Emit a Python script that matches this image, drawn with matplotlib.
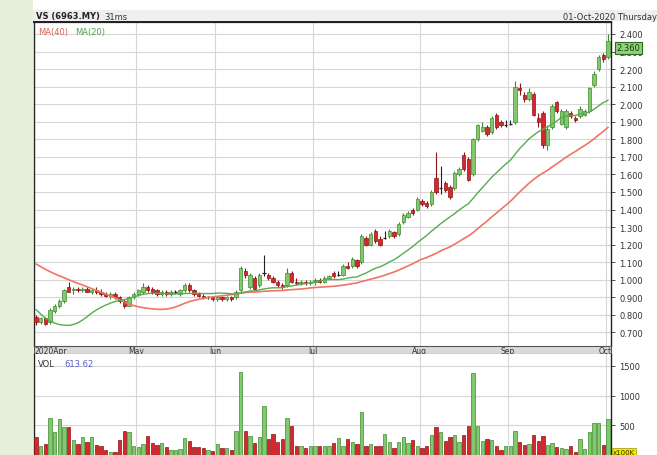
import matplotlib
matplotlib.use("Agg")
import matplotlib.pyplot as plt
import numpy as np
import pandas as pd
from matplotlib.patches import Rectangle

# ---------------- data ----------------
holidays = ['2020-05-01', '2020-05-07', '2020-05-25', '2020-05-26', '2020-06-08',
            '2020-08-20', '2020-08-31', '2020-09-16']
dates = pd.bdate_range('2020-04-01', '2020-10-01', freq='C', holidays=holidays)

# closes before April (only used to warm up the moving averages)
march_closes = [1.38, 1.36, 1.37, 1.35, 1.34, 1.36, 1.38, 1.37, 1.35, 1.33,
                1.34, 1.36, 1.35, 1.33, 1.32, 1.34, 1.36, 1.35, 1.33, 1.33,
                1.28, 1.22, 1.15, 1.10, 1.05, 1.00, 0.97,
                0.85, 0.75, 0.62, 0.55, 0.52, 0.58, 0.62, 0.66, 0.70, 0.72, 0.74, 0.77]

opens = [0.79, 0.76, 0.78, 0.76, 0.82, 0.85, 0.88, 0.96, 0.94, 0.95,
         0.94, 0.95, 0.93, 0.94, 0.93, 0.92, 0.91, 0.92, 0.90, 0.88,
         0.85, 0.90, 0.92, 0.93, 0.96, 0.95, 0.94, 0.92, 0.93, 0.92,
         0.93, 0.92, 0.94, 0.97, 0.94, 0.92, 0.91, 0.90, 0.90, 0.89,
         0.90, 0.89, 0.90, 0.90, 0.94, 1.05, 0.96, 1.01, 0.97, 1.04,
         1.03, 1.01, 0.99, 0.97, 0.97, 1.04, 0.99, 0.98, 0.99, 0.98,
         0.99, 1.00, 0.99, 1.01, 1.04, 1.03, 1.03, 1.08, 1.08, 1.11,
         1.10, 1.24, 1.20, 1.28, 1.23, 1.24, 1.25, 1.27, 1.26, 1.33,
         1.36, 1.40, 1.40, 1.45, 1.44, 1.43, 1.58, 1.52, 1.55, 1.53,
         1.52, 1.60, 1.71, 1.69, 1.60, 1.80, 1.85, 1.87, 1.84, 1.94,
         1.90, 1.88, 1.89, 1.90, 2.09, 2.05, 2.03, 2.06, 1.92, 1.95,
         1.77, 1.87, 2.01, 1.89, 1.87, 1.95, 1.92, 1.93, 1.94, 1.96,
         2.11, 2.20, 2.28, 2.27]
highs = [0.80, 0.79, 0.79, 0.84, 0.86, 0.89, 0.95, 0.99, 0.96, 0.96,
         0.96, 0.96, 0.95, 0.96, 0.95, 0.93, 0.93, 0.93, 0.91, 0.89,
         0.91, 0.93, 0.95, 0.98, 0.97, 0.96, 0.95, 0.94, 0.94, 0.94,
         0.94, 0.95, 0.98, 0.98, 0.95, 0.93, 0.92, 0.91, 0.91, 0.90,
         0.91, 0.91, 0.91, 0.94, 1.08, 1.07, 1.04, 1.02, 1.04, 1.14,
         1.04, 1.02, 1.00, 0.98, 1.07, 1.05, 1.01, 1.00, 1.00, 1.00,
         1.01, 1.01, 1.02, 1.03, 1.05, 1.05, 1.09, 1.10, 1.13, 1.12,
         1.26, 1.25, 1.27, 1.29, 1.25, 1.28, 1.29, 1.28, 1.33, 1.38,
         1.39, 1.41, 1.47, 1.46, 1.45, 1.51, 1.73, 1.65, 1.56, 1.54,
         1.62, 1.64, 1.73, 1.70, 1.81, 1.89, 1.90, 1.88, 1.93, 1.95,
         1.91, 1.91, 1.91, 2.13, 2.12, 2.07, 2.09, 2.07, 1.95, 1.96,
         1.88, 2.00, 2.02, 1.97, 1.97, 1.96, 1.93, 1.99, 1.97, 2.10,
         2.19, 2.28, 2.29, 2.40]
lows = [0.74, 0.75, 0.74, 0.75, 0.81, 0.84, 0.87, 0.93, 0.92, 0.93,
        0.93, 0.93, 0.92, 0.92, 0.91, 0.90, 0.89, 0.89, 0.87, 0.84,
        0.85, 0.89, 0.91, 0.92, 0.93, 0.92, 0.91, 0.91, 0.91, 0.91,
        0.92, 0.91, 0.93, 0.93, 0.91, 0.90, 0.89, 0.89, 0.88, 0.88,
        0.88, 0.88, 0.88, 0.89, 0.93, 1.01, 0.95, 0.94, 0.96, 1.02,
        1.00, 0.98, 0.96, 0.95, 0.96, 0.98, 0.97, 0.97, 0.97, 0.97,
        0.97, 0.98, 0.98, 1.00, 1.01, 1.02, 1.02, 1.06, 1.07, 1.07,
        1.09, 1.19, 1.19, 1.21, 1.19, 1.23, 1.24, 1.24, 1.25, 1.32,
        1.35, 1.37, 1.39, 1.42, 1.41, 1.42, 1.49, 1.49, 1.50, 1.46,
        1.51, 1.59, 1.62, 1.56, 1.59, 1.79, 1.84, 1.82, 1.83, 1.86,
        1.87, 1.87, 1.88, 1.89, 2.05, 2.01, 2.02, 1.93, 1.87, 1.75,
        1.74, 1.86, 1.95, 1.88, 1.86, 1.92, 1.90, 1.92, 1.93, 1.95,
        2.10, 2.19, 2.24, 2.26]
closes = [0.76, 0.78, 0.75, 0.83, 0.85, 0.88, 0.94, 0.93, 0.95, 0.94,
          0.95, 0.93, 0.94, 0.93, 0.92, 0.91, 0.92, 0.90, 0.88, 0.85,
          0.90, 0.92, 0.94, 0.96, 0.94, 0.93, 0.92, 0.93, 0.92, 0.93,
          0.93, 0.94, 0.97, 0.94, 0.92, 0.91, 0.90, 0.90, 0.89, 0.90,
          0.89, 0.90, 0.89, 0.93, 1.07, 1.03, 1.03, 0.95, 1.03, 1.04,
          1.01, 0.99, 0.97, 0.96, 1.04, 0.99, 0.98, 0.99, 0.98, 0.99,
          1.00, 0.99, 1.01, 1.02, 1.02, 1.03, 1.08, 1.07, 1.12, 1.08,
          1.25, 1.20, 1.26, 1.22, 1.20, 1.24, 1.28, 1.25, 1.32, 1.37,
          1.38, 1.38, 1.46, 1.43, 1.42, 1.50, 1.50, 1.52, 1.51, 1.47,
          1.61, 1.63, 1.63, 1.57, 1.80, 1.88, 1.87, 1.83, 1.92, 1.87,
          1.88, 1.88, 1.89, 2.10, 2.08, 2.03, 2.07, 1.94, 1.90, 1.77,
          1.86, 1.99, 1.96, 1.96, 1.96, 1.93, 1.91, 1.97, 1.96, 2.09,
          2.17, 2.27, 2.26, 2.36]
volumes = [297, 157, 185, 617, 381, 606, 466, 466, 252, 185,
           297, 213, 309, 168, 157, 90, 56, 56, 252, 404,
           393, 150, 129, 185, 325, 196, 168, 196, 129, 90,
           90, 101, 280, 241, 140, 129, 118, 90, 73, 185,
           112, 112, 90, 410, 1400, 398, 314, 202, 297, 830,
           269, 353, 224, 269, 617, 494, 157, 146, 112, 146,
           146, 146, 146, 157, 196, 280, 157, 269, 213, 180,
           718, 157, 185, 146, 146, 353, 213, 112, 213, 297,
           196, 252, 146, 112, 146, 337, 477, 381, 241, 309,
           337, 213, 337, 494, 1374, 494, 241, 269, 252, 157,
           90, 157, 150, 410, 213, 168, 185, 337, 241, 314,
           168, 196, 129, 112, 101, 146, 56, 269, 101, 393,
           539, 539, 168, 613.62]

price_ticks = [0.7, 0.8, 0.9, 1.0, 1.1, 1.2, 1.3, 1.4, 1.5, 1.6, 1.7, 1.8,
               1.9, 2.0, 2.1, 2.2, 2.3, 2.4]
vol_ticks = [500, 1000, 1500]
ma_periods = [40, 20]

# ---------------- derived ----------------
n = len(dates)
idx = np.arange(n)
o = np.array(opens); h = np.array(highs); l = np.array(lows); c = np.array(closes)
allc = pd.Series(march_closes + closes)
ma = {p: allc.rolling(p).mean().to_numpy()[-n:] for p in ma_periods}
month_starts = [i for i in range(n) if i == 0 or dates[i].month != dates[i - 1].month]
month_labels = ['2020Apr' if i == 0 else dates[i].strftime('%b') for i in month_starts]

# ---------------- figure ----------------
W, H = 657, 456
fig = plt.figure(figsize=(W / 100, H / 100), dpi=100)
fig.patch.set_facecolor('white')

def fax(x0, y0, x1, y1):
    return [x0 / W, 1 - y1 / H, (x1 - x0) / W, (y1 - y0) / H]

# left light-green strip and title band
fig.patches.append(Rectangle((0, 0), 33 / W, 1, transform=fig.transFigure,
                             facecolor='#e4efdc', edgecolor='none', zorder=0))
fig.patches.append(Rectangle((33 / W, 1 - 22 / H), 1, 11 / H, transform=fig.transFigure,
                             facecolor='#efefef', edgecolor='none', zorder=0))

fs = 6
GRID = '#d6d6d6'
G_FACE, G_EDGE = '#82c96d', '#3f8a30'
R_FACE, R_EDGE = '#d8262e', '#8a1616'
XL = (-0.43, 123.66)

ax = fig.add_axes(fax(34, 23, 611, 347))
axd = fig.add_axes(fax(34, 347, 611, 355))
axv = fig.add_axes(fax(34, 355, 611, 456))

# ---- price panel ----
ax.set_xlim(*XL)
ax.set_ylim(0.623, 2.468)
for p in price_ticks:
    ax.axhline(p, color=GRID, lw=0.8, zorder=0)
for i in month_starts[1:]:
    ax.axvline(i - 0.5, color=GRID, lw=0.8, zorder=0)

up = c > o
dn = c < o
doji = ~(up | dn)
wick_col = np.where(up, G_EDGE, np.where(dn, R_EDGE, '#222222'))
ax.vlines(idx, l, h, colors=wick_col, lw=0.8, zorder=2)
ax.bar(idx[up], (c - o)[up], bottom=o[up], width=0.72, color=G_FACE,
       edgecolor=G_EDGE, lw=0.5, zorder=3)
ax.bar(idx[dn], (o - c)[dn], bottom=c[dn], width=0.72, color=R_FACE,
       edgecolor=R_EDGE, lw=0.5, zorder=3)
ax.hlines(c[doji], idx[doji] - 0.36, idx[doji] + 0.36, colors='#222222', lw=0.9, zorder=3)

ax.plot(idx, ma[40], color='#ef7565', lw=1.2, zorder=4)
ax.plot(idx, ma[20], color='#55ad4f', lw=1.0, zorder=4)

ax.yaxis.tick_right()
ax.set_yticks(price_ticks)
ax.set_yticklabels([f'{p:.3f}' for p in price_ticks])
ax.tick_params(axis='y', labelsize=fs, colors='#333333', length=3, width=0.6, pad=3)
ax.set_xticks([])
for s in ['left', 'right']:
    ax.spines[s].set_color('#222222'); ax.spines[s].set_linewidth(1.0)
ax.spines['top'].set_color('#222222'); ax.spines['top'].set_linewidth(1.6)
ax.spines['bottom'].set_visible(False)

ax.text(0.007, 0.985, 'MA(40)', transform=ax.transAxes, ha='left', va='top',
        fontsize=fs, color='#e0604e')
ax.text(0.071, 0.985, 'MA(20)', transform=ax.transAxes, ha='left', va='top',
        fontsize=fs, color='#4fa04a')

# last price box
ax.annotate(f'{closes[-1]:.3f}', xy=(1.0, closes[-1]), xycoords=('axes fraction', 'data'),
            xytext=(4, -5), textcoords='offset points', ha='left', va='center',
            fontsize=fs, color='#1a3a10', annotation_clip=False,
            bbox=dict(boxstyle='square,pad=0.15', fc='#8fd07a', ec='#2d6a20', lw=0.8), zorder=10)

# title texts
fig.text(36 / W, 1 - 17 / H, 'VS (6963.MY)', fontsize=fs, fontweight='bold',
         color='#222222', ha='left', va='center')
fig.text(104 / W, 1 - 17 / H, '31ms', fontsize=fs, color='#333333', ha='left', va='center')
fig.text(1.0, 1 - 17 / H, dates[-1].strftime('%d-%b-%Y %A'), fontsize=fs, color='#333333',
         ha='right', va='center')

# ---- date band ----
axd.set_facecolor('#d9d9d9')
axd.set_xlim(*XL); axd.set_ylim(0, 1)
axd.set_xticks([]); axd.set_yticks([])
for s in axd.spines.values():
    s.set_color('#555555'); s.set_linewidth(0.8)
for i, lab in zip(month_starts, month_labels):
    if i == 0:
        axd.text(XL[0] + 0.1, 0.45, lab, ha='left', va='center', fontsize=fs - 0.5,
                 color='#333333', clip_on=True)
    else:
        axd.text(i - 0.5, 0.45, lab, ha='center', va='center', fontsize=fs - 0.5,
                 color='#333333', clip_on=True)

# ---- volume panel ----
axv.set_xlim(*XL)
axv.set_ylim(0, 1700)
for v in vol_ticks:
    axv.axhline(v, color=GRID, lw=0.8, zorder=0)
for i in month_starts[1:]:
    axv.axvline(i - 0.5, color=GRID, lw=0.8, zorder=0)
vol = np.array(volumes)
vup = c >= o
axv.bar(idx[vup], vol[vup], width=0.72, color=G_FACE, edgecolor=G_EDGE, lw=0.5, zorder=3)
axv.bar(idx[~vup], vol[~vup], width=0.72, color=R_FACE, edgecolor=R_EDGE, lw=0.5, zorder=3)
axv.yaxis.tick_right()
axv.set_yticks(vol_ticks)
axv.set_yticklabels([str(v) for v in vol_ticks])
axv.tick_params(axis='y', labelsize=fs, colors='#333333', length=3, width=0.6, pad=3)
axv.set_xticks([])
for s in ['left', 'right']:
    axv.spines[s].set_color('#222222'); axv.spines[s].set_linewidth(1.0)
axv.spines['top'].set_visible(False)
axv.spines['bottom'].set_visible(False)
axv.text(0.007, 0.95, 'VOL', transform=axv.transAxes, ha='left', va='top',
         fontsize=fs, color='#333333')
axv.text(0.052, 0.95, f'{volumes[-1]:.2f}', transform=axv.transAxes, ha='left', va='top',
         fontsize=fs, color='#5a5acf')
axv.text(1.003, 0.0, 'x100K', transform=axv.transAxes, ha='left', va='bottom',
         fontsize=fs - 1, color='#333300',
         bbox=dict(boxstyle='square,pad=0.15', fc='#f2e600', ec='#999900', lw=0.5))

fig.savefig('out.png', dpi=100)
